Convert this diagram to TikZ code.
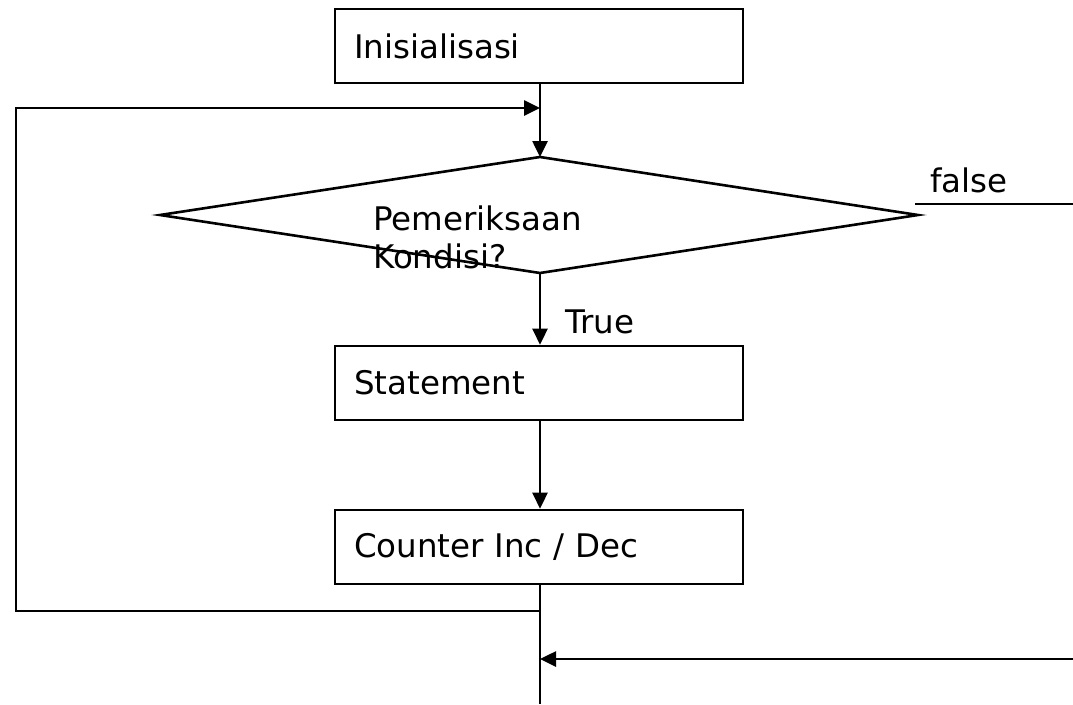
\documentclass[tikz,border=0pt]{standalone}
\usepackage{fontspec}
\setmainfont{DejaVu Sans}
\usetikzlibrary{arrows.meta}
\begin{document}
\begin{tikzpicture}[x=1pt,y=-1pt,
  line width=2.6pt,
  box/.style={draw,rectangle,minimum width=408pt,minimum height=74pt,text width=370pt,align=left,inner sep=0pt,font=\fontsize{32.5}{38}\selectfont},
  lbl/.style={anchor=west,inner sep=0pt,font=\fontsize{32.5}{38}\selectfont},
  arr/.style={-{Triangle[length=16pt,width=15pt]}}]
\useasboundingbox (0,0) rectangle (1073,704);
\node[box] (init) at (539,46) {Inisialisasi};
\node[box] (stmt) at (539,383) {Statement};
\node[box] (cnt) at (539,547) {Counter Inc / Dec};
\coordinate (dt) at (540,157);
\coordinate (dl) at (160,215);
\coordinate (dr) at (918,215);
\coordinate (db) at (540,273);
\draw (dt) -- (dr) -- (db) -- (dl) -- cycle;
\node[lbl] (pk) at (372,218) {Pemeriksaan};
\node[lbl] (kd) at (372,256) {Kondisi?};
\node[lbl] (tr) at (564,322) {True};
\node[lbl] (fl) at (929,180) {false};
\coordinate (j1) at (540,108);
\coordinate (l1) at (16,108);
\coordinate (l2) at (16,611);
\coordinate (j2) at (540,611);
\coordinate (bot) at (540,704);
\coordinate (j3) at (540,659);
\coordinate (re) at (1073,659);
\coordinate (fs) at (915,204);
\coordinate (fe) at (1073,204);
\draw[arr] (init.south -| dt) -- (dt);
\draw[arr] (j2) -- (l2) -- (l1) -- (j1);
\draw[arr] (db) -- (stmt.north -| db);
\draw[arr] (stmt.south -| db) -- (cnt.north -| db);
\draw (cnt.south -| db) -- (bot);
\draw[arr] (re) -- (j3);
\draw (fs) -- (fe);
\end{tikzpicture}
\end{document}
